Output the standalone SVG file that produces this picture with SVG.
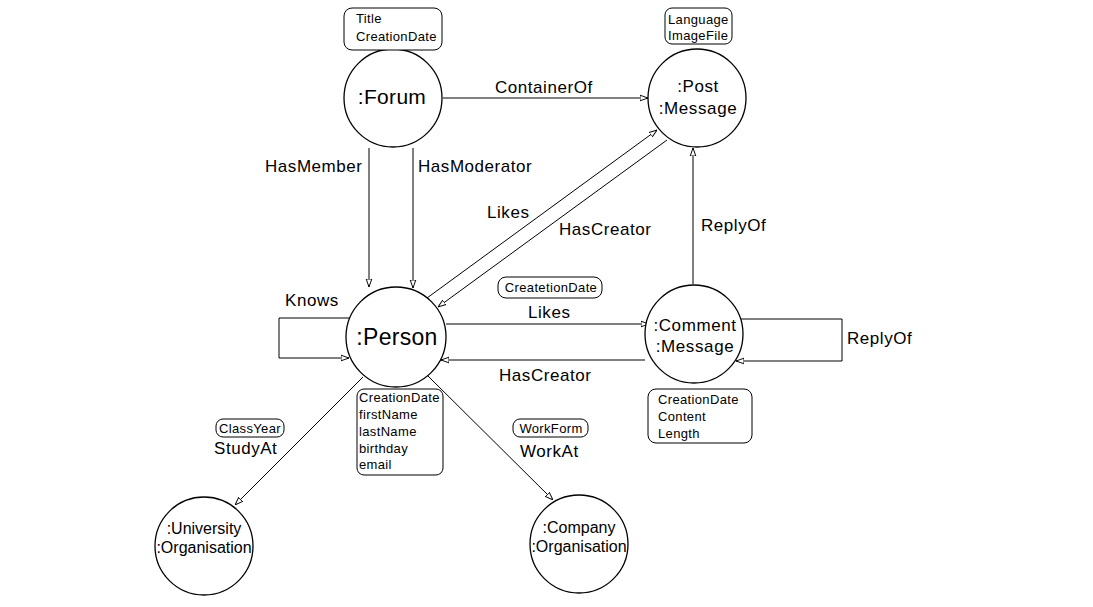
<svg xmlns="http://www.w3.org/2000/svg" width="1093" height="607" viewBox="0 0 1093 607">
<defs>
<marker id="arr" viewBox="0 0 10 10" refX="10" refY="5" markerWidth="8" markerHeight="8" markerUnits="userSpaceOnUse" orient="auto">
<path d="M0,1.5 L10,5 L0,8.5 Z" fill="#fff" stroke="#000" stroke-width="1.2"/>
</marker>
<style>
.n{fill:#fff;stroke:#000;stroke-width:1.3}
.b{fill:#fff;stroke:#000;stroke-width:1}
.e{fill:none;stroke:#000;stroke-width:1;marker-end:url(#arr)}
text{font-family:"Liberation Sans",Arial,sans-serif;fill:#000}
.t{font-size:16px;text-anchor:middle}
.m{font-size:17px;letter-spacing:0.6px;text-anchor:middle}
.a{font-size:13px;letter-spacing:0.35px}
.l{font-size:17px;letter-spacing:0.55px}
</style>
</defs>
<rect width="1093" height="607" fill="#fff"/>
<g id="connectors">
<path class="e" d="M443,98 L648,98"/>
<path class="e" d="M369,148 L369,287"/>
<path class="e" d="M413,148 L413,288"/>
<path class="e" d="M427,298 L657,130"/>
<path class="e" d="M667,140 L438,307"/>
<path class="e" d="M693,284 L693,148"/>
<path class="e" d="M446,324 L649,324"/>
<path class="e" d="M645,360 L441,360"/>
<path class="e" d="M349,318 L279,318 L279,358 L349,358"/>
<path class="e" d="M741,319 L842,319 L842,361 L736,361"/>
<path class="e" d="M363,377 L235,505"/>
<path class="e" d="M428,376 L553,500"/>
<text class="l" x="495" y="93">ContainerOf</text>
<text class="l" x="265" y="172">HasMember</text>
<text class="l" x="418" y="172">HasModerator</text>
<text class="l" x="487" y="218">Likes</text>
<text class="l" x="559" y="235">HasCreator</text>
<text class="l" x="701" y="231">ReplyOf</text>
<text class="l" x="285" y="306">Knows</text>
<text class="l" x="528" y="318">Likes</text>
<text class="l" x="499" y="381">HasCreator</text>
<text class="l" x="847" y="344">ReplyOf</text>
<text class="l" x="214" y="454">StudyAt</text>
<text class="l" x="520" y="457">WorkAt</text>
</g>
<g id="forum">
<circle class="n" cx="393" cy="98" r="49"/>
<text x="392" y="104" font-size="21" letter-spacing="0.3" text-anchor="middle">:Forum</text>
<rect class="b" x="344" y="8" width="98" height="42" rx="8"/>
<text class="a" x="356" y="23">Title</text>
<text class="a" x="356" y="41">CreationDate</text>
</g>
<g id="post">
<circle class="n" cx="697" cy="98" r="49"/>
<text class="m" x="698" y="92">:Post</text>
<text class="m" x="698" y="114">:Message</text>
<rect class="b" x="665" y="8" width="67" height="36" rx="7"/>
<text class="a" x="668" y="24">Language</text>
<text class="a" x="668" y="40">ImageFile</text>
</g>
<g id="person">
<circle class="n" cx="396" cy="337" r="50"/>
<text x="397" y="345" font-size="23" letter-spacing="0.3" text-anchor="middle">:Person</text>
<rect class="b" x="357" y="389" width="86" height="86" rx="7"/>
<text class="a" x="359" y="402">CreationDate</text>
<text class="a" x="359" y="419">firstName</text>
<text class="a" x="359" y="436">lastName</text>
<text class="a" x="359" y="453">birthday</text>
<text class="a" x="359" y="469">email</text>
</g>
<g id="comment">
<circle class="n" cx="694" cy="334" r="49"/>
<text class="m" x="695" y="331">:Comment</text>
<text class="m" x="695" y="352">:Message</text>
<rect class="b" x="648" y="389" width="104" height="54" rx="8"/>
<text class="a" x="658" y="404">CreationDate</text>
<text class="a" x="658" y="421">Content</text>
<text class="a" x="658" y="438">Length</text>
</g>
<g id="likesattr">
<rect class="b" x="498" y="277" width="104" height="21" rx="8"/>
<text class="a" x="551" y="292" text-anchor="middle">CreatetionDate</text>
</g>
<g id="studyattr">
<rect class="b" x="216" y="419" width="68" height="18" rx="7"/>
<text class="a" x="250" y="433" text-anchor="middle">ClassYear</text>
</g>
<g id="workattr">
<rect class="b" x="513" y="419" width="75" height="18" rx="7"/>
<text class="a" x="551" y="433" text-anchor="middle">WorkForm</text>
</g>
<g id="university">
<circle class="n" cx="204" cy="546" r="49"/>
<text class="t" x="204" y="534">:University</text>
<text class="t" x="204" y="553">:Organisation</text>
</g>
<g id="company">
<circle class="n" cx="579" cy="544" r="49"/>
<text class="t" x="579" y="533">:Company</text>
<text class="t" x="579" y="552">:Organisation</text>
</g>
</svg>
